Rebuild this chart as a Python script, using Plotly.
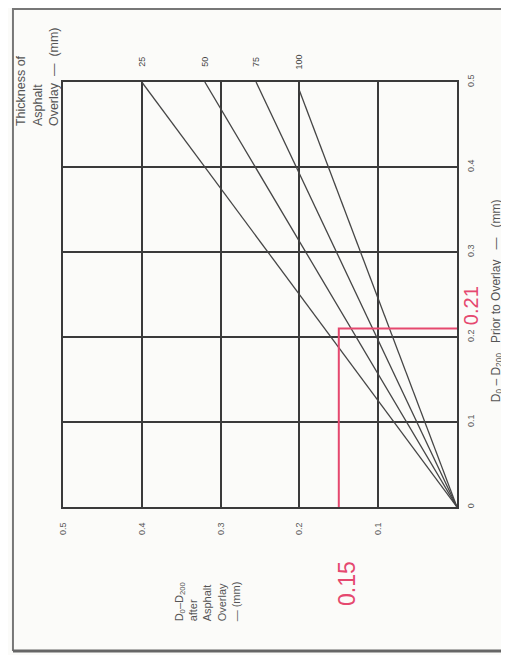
import plotly.graph_objects as go

# ---- data ----
thickness_mm = ["25", "50", "75", "100"]
after_at_end = [0.40, 0.32, 0.255, 0.20]     # D0-D200 after overlay at line end
prior_at_end = [0.50, 0.50, 0.50, 0.49]      # D0-D200 prior to overlay at line end
after_ticks = [0.1, 0.2, 0.3, 0.4, 0.5]
prior_ticks = [0, 0.1, 0.2, 0.3, 0.4, 0.5]
example_prior = 0.21
example_after = 0.15

RED = "#e5486f"
INK = "#3a3a3a"
FONT = "Liberation Sans, Arial, sans-serif"

fig = go.Figure()

for t, xa, yp in zip(thickness_mm, after_at_end, prior_at_end):
    fig.add_trace(go.Scatter(x=[0, xa], y=[0, yp], mode="lines",
                             line=dict(color="#454545", width=1.3),
                             showlegend=False, hoverinfo="skip"))
    fig.add_annotation(x=xa, y=0.5, xref="x", yref="y", yshift=20,
                       xanchor="center", yanchor="middle",
                       text=t, textangle=-90, showarrow=False,
                       font=dict(size=9, color="#444", family=FONT))

# worked example (red)
fig.add_trace(go.Scatter(x=[example_after, example_after, 0],
                         y=[0, example_prior, example_prior],
                         mode="lines", line=dict(color=RED, width=2),
                         showlegend=False, hoverinfo="skip"))

fig.update_xaxes(range=[0.5, 0], tickvals=after_ticks,
                 ticktext=[f"{v:.1f}" for v in after_ticks],
                 tickangle=-90, showgrid=True, gridcolor=INK, gridwidth=2,
                 zeroline=False, showline=True, linecolor=INK, linewidth=2,
                 mirror=True, ticks="", ticklabelstandoff=10,
                 tickfont=dict(size=9, color="#555", family=FONT))
fig.update_yaxes(range=[0, 0.5], side="right", tickvals=prior_ticks,
                 ticktext=["0"] + [f"{v:.1f}" for v in prior_ticks[1:]],
                 tickangle=-90, showgrid=True, gridcolor=INK, gridwidth=2,
                 zeroline=False, showline=True, linecolor=INK, linewidth=2,
                 mirror=True, ticks="", ticklabelstandoff=4,
                 tickfont=dict(size=9, color="#555", family=FONT))

ann = dict(xref="paper", yref="paper", showarrow=False, textangle=-90,
           xanchor="center", yanchor="middle")
fig.add_annotation(x=1.1, y=0.485,
                   text="D<sub>0</sub> – D<sub>200</sub>   Prior to Overlay   —   (mm)",
                   font=dict(size=12, color="#555", family=FONT), **ann)
fig.add_annotation(x=-0.063, y=1.012, align="left",
                   text="Thickness of<br>Asphalt<br>Overlay  —  (mm)",
                   font=dict(size=12.5, color="#555", family=FONT), **ann)
fig.add_annotation(x=0.3655, y=-0.222, align="left",
                   text="D<sub>0</sub>–D<sub>200</sub><br>after<br>Asphalt<br>Overlay<br>— (mm)",
                   font=dict(size=11, color="#555", family=FONT), **ann)
fig.add_annotation(x=1.036, y=0.473, text="0.21",
                   font=dict(size=20, color=RED, family=FONT), **ann)
fig.add_annotation(x=0.721, y=-0.181, text="0.15",
                   font=dict(size=23, color=RED, family=FONT), **ann)

# page frame
fig.add_shape(type="line", xref="paper", yref="paper", x0=-0.127, x1=1.12,
              y0=1.172, y1=1.172, line=dict(color="#777", width=2))
fig.add_shape(type="line", xref="paper", yref="paper", x0=-0.127, x1=-0.127,
              y0=1.174, y1=-0.339, line=dict(color="#777", width=2))
fig.add_shape(type="line", xref="paper", yref="paper", x0=-0.127, x1=1.12,
              y0=-0.339, y1=-0.339, line=dict(color="#666", width=3))

# the page body adds an 8 px offset, so the figure is 8 px smaller
fig.update_layout(width=501, height=647,
                  margin=dict(l=55, r=52, t=74, b=148),
                  paper_bgcolor="#fbfbf9", plot_bgcolor="#fbfbf9",
                  font=dict(family=FONT))

fig.write_html("out.html")
